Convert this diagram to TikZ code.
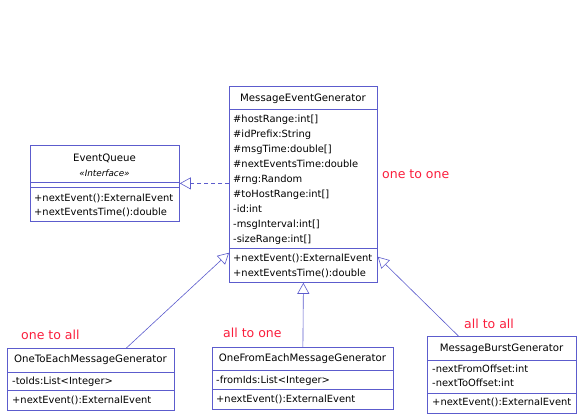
\documentclass[tikz,border=0pt]{standalone}
\usepackage{fontspec}
\setmainfont{DejaVu Sans}
\usetikzlibrary{arrows.meta,positioning}
\definecolor{umlblue}{RGB}{92,92,205}
\definecolor{notered}{RGB}{250,30,60}

\begin{document}
\begin{tikzpicture}[x=1pt, y=-1pt,
    classbox/.style={rectangle, draw=umlblue, fill=white, line width=0.8pt, anchor=north west, inner sep=0pt},
    divider/.style={draw=umlblue, line width=0.8pt},
    title/.style={anchor=base, inner sep=0pt, font=\fontsize{10.2}{15}\selectfont},
    stereo/.style={anchor=base, inner sep=0pt, font=\fontsize{8.8}{12}\selectfont\itshape},
    member/.style={anchor=north west, inner sep=0pt, align=left, font=\fontsize{9.9}{15}\selectfont},
    field/.style={anchor=base west, inner sep=0pt, font=\fontsize{9.9}{15}\selectfont},
    inherit/.style={draw=umlblue, line width=0.6pt, -{Triangle[open, length=11pt, width=12pt, fill=white]}},
    realize/.style={inherit, dash pattern=on 4pt off 3pt},
    note/.style={anchor=base west, inner sep=0pt, text=notered, font=\fontsize{12.5}{15}\selectfont}
]
    \useasboundingbox (0,0) rectangle (581,419);

    % Classes
    \node[classbox, minimum width=149pt, minimum height=76pt] (eq) at (30,145) {};
    \node[classbox, minimum width=148pt, minimum height=196pt] (meg) at (229,86) {};
    \node[classbox, minimum width=167pt, minimum height=62pt] (ote) at (7,348) {};
    \node[classbox, minimum width=181pt, minimum height=62pt] (ofe) at (212,347) {};
    \node[classbox, minimum width=149pt, minimum height=77pt] (mbg) at (427,336) {};

    % EventQueue
    \node[title] (eqname) at (104.5,161.5) {EventQueue};
    \node[stereo] (eqstereo) at (104.5,176.5) {«Interface»};
    \draw[divider] ([yshift=-37pt]eq.north west) -- ([yshift=-37pt]eq.north east);
    \draw[divider] ([yshift=-42pt]eq.north west) -- ([yshift=-42pt]eq.north east);
    \node[member, font=\fontsize{9.9}{14}\selectfont] (eqops) at (34,191.7)
        {\strut+nextEvent():ExternalEvent\\\strut+nextEventsTime():double};

    % MessageEventGenerator
    \node[title] (megname) at (303,101.5) {MessageEventGenerator};
    \draw[divider] ([yshift=-23pt]meg.north west) -- ([yshift=-23pt]meg.north east);
    \draw[divider] ([yshift=-162pt]meg.north west) -- ([yshift=-162pt]meg.north east);
    \node[member] (megattrs) at (233,112)
        {\strut\#hostRange:int[]\\\strut\#idPrefix:String\\\strut\#msgTime:double[]\\
         \strut\#nextEventsTime:double\\\strut\#rng:Random\\\strut\#toHostRange:int[]\\
         \strut-id:int\\\strut-msgInterval:int[]\\\strut-sizeRange:int[]};
    \node[member] (megops) at (233,251)
        {\strut+nextEvent():ExternalEvent\\\strut+nextEventsTime():double};

    % OneToEachMessageGenerator
    \node[title] (otename) at (90.5,363) {OneToEachMessageGenerator};
    \draw[divider] ([yshift=-24pt]ote.north west) -- ([yshift=-24pt]ote.north east);
    \draw[divider] ([yshift=-42pt]ote.north west) -- ([yshift=-42pt]ote.north east);
    \node[field] (oteattr) at (12,384.5) {-toIds:List<Integer>};
    \node[field] (oteop) at (12,404) {+nextEvent():ExternalEvent};

    % OneFromEachMessageGenerator
    \node[title] (ofename) at (302.5,362) {OneFromEachMessageGenerator};
    \draw[divider] ([yshift=-23pt]ofe.north west) -- ([yshift=-23pt]ofe.north east);
    \draw[divider] ([yshift=-42pt]ofe.north west) -- ([yshift=-42pt]ofe.north east);
    \node[field] (ofeattr) at (216,383.5) {-fromIds:List<Integer>};
    \node[field] (ofeop) at (216,402.5) {+nextEvent():ExternalEvent};

    % MessageBurstGenerator
    \node[title] (mbgname) at (501.5,351.5) {MessageBurstGenerator};
    \draw[divider] ([yshift=-24pt]mbg.north west) -- ([yshift=-24pt]mbg.north east);
    \draw[divider] ([yshift=-57pt]mbg.north west) -- ([yshift=-57pt]mbg.north east);
    \node[member, font=\fontsize{9.9}{14}\selectfont] (mbgattrs) at (432,362.7)
        {\strut-nextFromOffset:int\\\strut-nextToOffset:int};
    \node[field] (mbgop) at (432,405.5) {+nextEvent():ExternalEvent};

    % Arrows
    \draw[realize] (meg.west |- eq.east) -- (eq.east);
    \draw[inherit] ([xshift=35.5pt]ote.north) -- ([yshift=30pt]meg.south west);
    \draw[inherit] (ofe.north) -- (meg.south);
    \draw[inherit] ([xshift=-43.5pt]mbg.north) -- ([yshift=26pt]meg.south east);

    % Notes
    \node[note] (oneone) at (382,179) {one to one};
    \node[note] (oneall) at (21,340) {one to all};
    \node[note] (allone) at (223,338) {all to one};
    \node[note] (allall) at (464,329) {all to all};
\end{tikzpicture}
\end{document}
